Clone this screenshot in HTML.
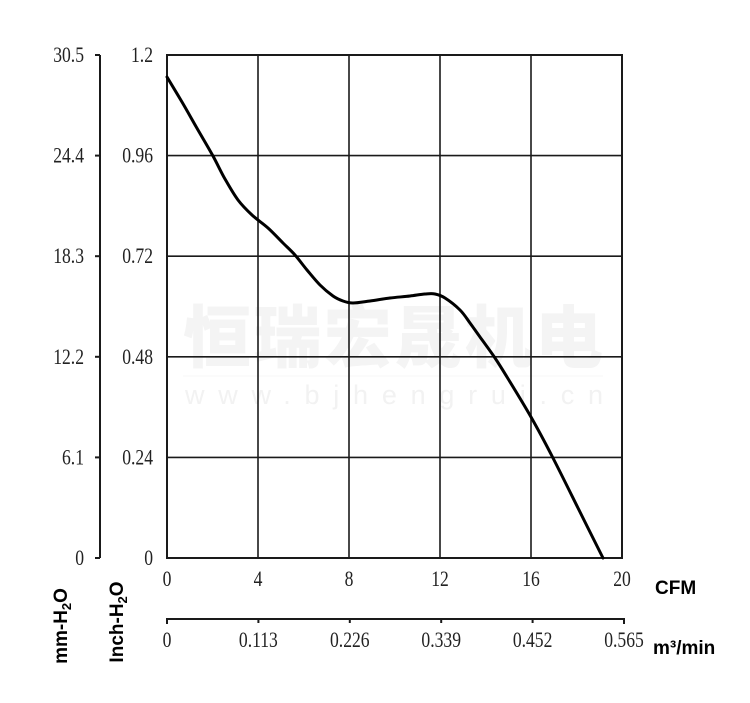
<!DOCTYPE html>
<html><head><meta charset="utf-8"><style>
html,body{margin:0;padding:0;background:#fff;}
svg{display:block;}
.t{font-family:"Liberation Serif",serif;font-size:22px;fill:#222;}
.b{font-family:"Liberation Sans",sans-serif;font-weight:bold;font-size:19px;fill:#000;}
</style></head><body>
<svg width="750" height="703" viewBox="0 0 750 703" xmlns="http://www.w3.org/2000/svg">
<!-- watermark -->
<text x="183" y="362" font-family="'Noto Sans CJK SC',sans-serif" font-weight="900" font-size="68" fill="#f4f4f4" textLength="420" lengthAdjust="spacing">恒瑞宏晟机电</text>
<line x1="183" y1="376" x2="603" y2="376" stroke="#f7f7f7" stroke-width="1"/>
<text x="185" y="404" font-family="'Liberation Sans',sans-serif" font-size="27" fill="#f2f2f2" textLength="418" lengthAdjust="spacing">www.bjhengrui.cn</text>

<!-- grid -->
<g stroke="#1a1a1a" stroke-width="1.6" fill="none">
<line x1="258" y1="55" x2="258" y2="558"/>
<line x1="349" y1="55" x2="349" y2="558"/>
<line x1="440" y1="55" x2="440" y2="558"/>
<line x1="531" y1="55" x2="531" y2="558"/>
<line x1="167" y1="155.6" x2="622" y2="155.6"/>
<line x1="167" y1="256.2" x2="622" y2="256.2"/>
<line x1="167" y1="356.8" x2="622" y2="356.8"/>
<line x1="167" y1="457.4" x2="622" y2="457.4"/>
<rect x="167" y="55" width="455" height="503" stroke-width="2"/>
</g>

<!-- left mm axis -->
<g stroke="#1a1a1a" stroke-width="2" fill="none">
<line x1="100" y1="55" x2="100" y2="558"/>
<line x1="95" y1="55" x2="100" y2="55"/>
<line x1="95" y1="155.6" x2="100" y2="155.6"/>
<line x1="95" y1="256.2" x2="100" y2="256.2"/>
<line x1="95" y1="356.8" x2="100" y2="356.8"/>
<line x1="95" y1="457.4" x2="100" y2="457.4"/>
<line x1="95" y1="558" x2="100" y2="558"/>
</g>
<g class="t" text-anchor="end">
<text transform="translate(84,62) scale(0.8 1)">30.5</text>
<text transform="translate(84,162.6) scale(0.8 1)">24.4</text>
<text transform="translate(84,263.2) scale(0.8 1)">18.3</text>
<text transform="translate(84,363.8) scale(0.8 1)">12.2</text>
<text transform="translate(84,464.4) scale(0.8 1)">6.1</text>
<text transform="translate(84,565) scale(0.8 1)">0</text>
<text transform="translate(153,62) scale(0.8 1)">1.2</text>
<text transform="translate(153,162.6) scale(0.8 1)">0.96</text>
<text transform="translate(153,263.2) scale(0.8 1)">0.72</text>
<text transform="translate(153,363.8) scale(0.8 1)">0.48</text>
<text transform="translate(153,464.4) scale(0.8 1)">0.24</text>
<text transform="translate(153,565) scale(0.8 1)">0</text>
</g>

<!-- CFM labels -->
<g class="t" text-anchor="middle">
<text transform="translate(167,586) scale(0.8 1)">0</text>
<text transform="translate(258,586) scale(0.8 1)">4</text>
<text transform="translate(349,586) scale(0.8 1)">8</text>
<text transform="translate(440,586) scale(0.8 1)">12</text>
<text transform="translate(531,586) scale(0.8 1)">16</text>
<text transform="translate(622,586) scale(0.8 1)">20</text>
</g>
<text class="b" x="655" y="594">CFM</text>

<!-- m3/min axis -->
<g stroke="#1a1a1a" stroke-width="2" fill="none">
<line x1="167" y1="619" x2="624" y2="619"/>
<line x1="167" y1="618" x2="167" y2="624"/>
<line x1="258.4" y1="618" x2="258.4" y2="623"/>
<line x1="349.8" y1="618" x2="349.8" y2="623"/>
<line x1="441.2" y1="618" x2="441.2" y2="623"/>
<line x1="532.6" y1="618" x2="532.6" y2="623"/>
<line x1="624" y1="618" x2="624" y2="624"/>
</g>
<g class="t" text-anchor="middle">
<text transform="translate(167,647) scale(0.8 1)">0</text>
<text transform="translate(258.4,647) scale(0.8 1)">0.113</text>
<text transform="translate(349.8,647) scale(0.8 1)">0.226</text>
<text transform="translate(441.2,647) scale(0.8 1)">0.339</text>
<text transform="translate(532.6,647) scale(0.8 1)">0.452</text>
<text transform="translate(624,647) scale(0.8 1)">0.565</text>
</g>
<text class="b" x="653" y="654">m³/min</text>

<!-- rotated axis titles -->
<text class="b" transform="translate(67,626) rotate(-90)" text-anchor="middle">mm-H<tspan font-size="13" dy="4">2</tspan><tspan dy="-4">O</tspan></text>
<text class="b" transform="translate(123,622) rotate(-90)" text-anchor="middle">Inch-H<tspan font-size="13" dy="4">2</tspan><tspan dy="-4">O</tspan></text>

<!-- curve -->
<path fill="none" stroke="#000" stroke-width="3" stroke-linejoin="round" stroke-linecap="round"
d="M167,77 C169.5,81.2 176.8,93.2 182,102 C187.2,110.8 192.8,121 198,130 C203.2,139 208.5,147.8 213,156 C217.5,164.2 220.8,171.7 225,179 C229.2,186.3 233.5,194 238,200 C242.5,206 247,210.3 252,215 C257,219.7 262.8,223.3 268,228 C273.2,232.7 278.5,238.5 283,243 C287.5,247.5 291,250.5 295,255 C299,259.5 302.8,265 307,270 C311.2,275 315.7,280.7 320,285 C324.3,289.3 329.2,293.3 333,296 C336.8,298.7 339.7,299.8 343,301 C346.3,302.2 348.5,303 353,303 C357.5,303 363.8,301.8 370,301 C376.2,300.2 383.3,298.8 390,298 C396.7,297.2 404.2,296.7 410,296 C415.8,295.3 420.8,294.3 425,294 C429.2,293.7 431.7,293.3 435,294 C438.3,294.7 440.8,295.3 445,298 C449.2,300.7 455.8,305.8 460,310 C464.2,314.2 466.7,318.5 470,323 C473.3,327.5 475.8,331.2 480,337 C484.2,342.8 490.5,351.3 495,358 C499.5,364.7 501,367.2 507,377 C513,386.8 523.3,403.5 531,417 C538.7,430.5 545.2,442.8 553,458 C560.8,473.2 569.7,491.3 578,508 C586.3,524.7 598.8,549.7 603,558"/>
</svg>
</body></html>
